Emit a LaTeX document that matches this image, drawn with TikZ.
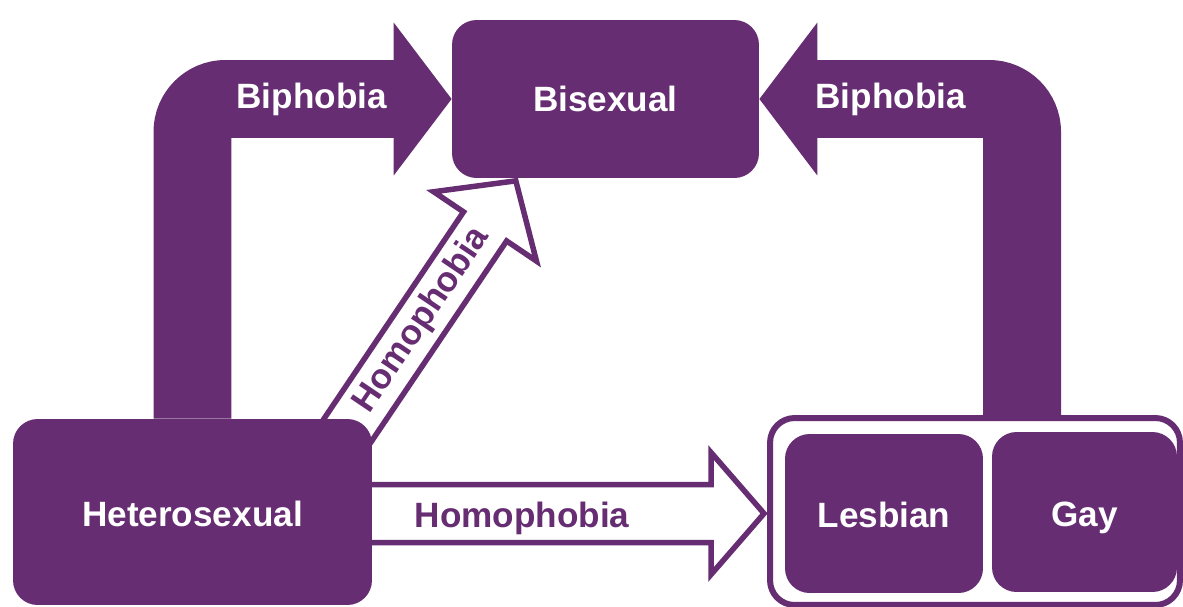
\documentclass[tikz,border=0pt]{standalone}
\usepackage{fontspec}
\setmainfont{Liberation Sans}
\usetikzlibrary{arrows.meta,calc,backgrounds}
\definecolor{lgbt}{RGB}{102,45,114}
\tikzset{
  idbox/.style={fill=lgbt, rounded corners=14pt, text=white, font=\bfseries\fontsize{20}{24}\selectfont},
  lowtext/.style={text height=20pt, text depth=4pt},
  biarrow/.style={draw=lgbt, line width=1.56cm, rounded corners=0.66cm, -{Triangle[length=1.16cm,width=3cm]}},
  holarrow/.style={draw=lgbt, fill=white, line width=0.11cm, line join=miter},
  arrowtext/.style={font=\bfseries\fontsize{20}{24}\selectfont}
}

\begin{document}
\begin{tikzpicture}[x=0.02cm,y=-0.02cm]
      \useasboundingbox (0,0) rectangle (1183,606);
      \node [idbox, minimum width=6.14cm, minimum height=3.16cm] (bisexual) at (605.5,99) {Bisexual};
      \node [idbox, lowtext, minimum width=7.18cm, minimum height=3.72cm] (hetero) at (192.5,512) {Heterosexual};
      \node [draw=lgbt, line width=0.12cm, fill=white, rounded corners=14pt, minimum width=8.2cm, minimum height=3.74cm] (group) at (975,511.5) {};
      \node [idbox, lowtext, minimum width=3.96cm, minimum height=3.18cm] (lesbian) at (884,513.5) {Lesbian};
      \node [idbox, lowtext, minimum width=3.7cm, minimum height=3.2cm] (gay) at (1084.5,512) {Gay};
      \coordinate (htip) at (group.west |- lesbian.west);
      \coordinate (dtip) at ($(bisexual.south)+(-88,0)$);
      \begin{scope}[on background layer]
        \draw [biarrow] (hetero.north) |- node [pos=0.73, arrowtext, text=white] {Biphobia} (bisexual.west);
        \draw [biarrow] ($(group.north)+(47,0)$) |- node [pos=0.75, arrowtext, text=white] {Biphobia} (bisexual.east);
        \draw [holarrow, shift={(dtip)}, rotate=56] (-3,0) -- (-58,-62) -- (-58,-26) -- (-360,-26) -- (-360,26) -- (-58,26) -- (-58,62) -- cycle
          (-171,0) node [arrowtext, text=lgbt, rotate=56] {Homophobia};
        \draw [holarrow, shift={(htip)}] (-3,0) -- (-56,-61) -- (-56,-29) -- (-420,-29) -- (-420,29) -- (-56,29) -- (-56,61) -- cycle
          (-245,0) node [arrowtext, lowtext, text=lgbt] {Homophobia};
      \end{scope}
    \end{tikzpicture}
\end{document}
